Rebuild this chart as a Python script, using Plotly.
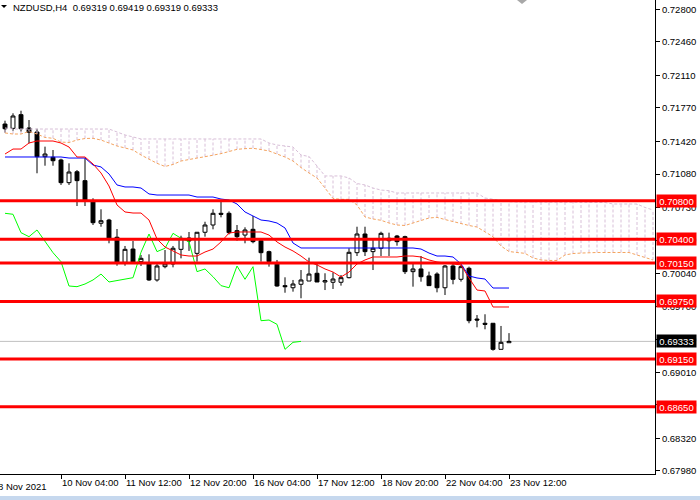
import plotly.graph_objects as go

# NZDUSD H4, 9 Nov 2021 00:00 .. 23 Nov 2021 12:00, one entry per bar
title_text = "NZDUSD,H4  0.69319 0.69419 0.69319 0.69333"

opens = [0.71602, 0.71557, 0.71700, 0.71561, 0.71519, 0.71261, 0.71255, 0.71227,
         0.70990, 0.71104, 0.71011, 0.70791, 0.70566, 0.70600, 0.70420, 0.70158,
         0.70297, 0.70165, 0.70154, 0.69974, 0.70113, 0.70141, 0.70294, 0.70412,
         0.70252, 0.70472, 0.70548, 0.70670, 0.70670, 0.70489, 0.70443, 0.70503,
         0.70384, 0.70270, 0.70154, 0.69915, 0.69893, 0.69929, 0.69963, 0.70044,
         0.69953, 0.69950, 0.69950, 0.69998, 0.70259, 0.70454, 0.70270, 0.70305,
         0.70384, 0.70433, 0.70426, 0.70061, 0.70089, 0.70016, 0.70036, 0.69893,
         0.70120, 0.69981, 0.70096, 0.69566, 0.69522, 0.69522, 0.69250, 0.69319]
highs = [0.71637, 0.71714, 0.71741, 0.71644, 0.71553, 0.71366, 0.71331, 0.71240,
         0.71192, 0.71122, 0.71244, 0.70827, 0.70712, 0.70612, 0.70506, 0.70329,
         0.70381, 0.70235, 0.70242, 0.70148, 0.70287, 0.70329, 0.70436, 0.70475,
         0.70475, 0.70582, 0.70712, 0.70791, 0.70690, 0.70548, 0.70524, 0.70642,
         0.70391, 0.70280, 0.70183, 0.70002, 0.69974, 0.70078, 0.70207, 0.70148,
         0.70044, 0.70054, 0.70026, 0.70305, 0.70530, 0.70530, 0.70391, 0.70478,
         0.70468, 0.70444, 0.70436, 0.70148, 0.70224, 0.70061, 0.70054, 0.70130,
         0.70148, 0.70130, 0.70113, 0.69608, 0.69616, 0.69522, 0.69494, 0.69419]
lows = [0.71512, 0.71532, 0.71522, 0.71401, 0.71088, 0.71167, 0.71167, 0.70966,
        0.70966, 0.70746, 0.70746, 0.70548, 0.70530, 0.70357, 0.70123, 0.70123,
        0.70150, 0.70120, 0.69965, 0.69957, 0.70096, 0.70106, 0.70200, 0.70277,
        0.70165, 0.70426, 0.70503, 0.70628, 0.70450, 0.70384, 0.70357, 0.70357,
        0.70165, 0.70113, 0.69904, 0.69841, 0.69852, 0.69783, 0.69963, 0.69953,
        0.69869, 0.69880, 0.69915, 0.69991, 0.70224, 0.70224, 0.70078, 0.70224,
        0.70224, 0.70332, 0.70036, 0.69904, 0.69956, 0.69915, 0.69845, 0.69817,
        0.69929, 0.69957, 0.69522, 0.69480, 0.69459, 0.69236, 0.69250, 0.69319]
closes = [0.71553, 0.71686, 0.71553, 0.71516, 0.71261, 0.71289, 0.71219, 0.70990,
          0.71101, 0.71011, 0.70804, 0.70572, 0.70593, 0.70409, 0.70158, 0.70294,
          0.70158, 0.70200, 0.69974, 0.70120, 0.70141, 0.70305, 0.70409, 0.70381,
          0.70472, 0.70548, 0.70670, 0.70660, 0.70468, 0.70426, 0.70496, 0.70374,
          0.70259, 0.70165, 0.69911, 0.69904, 0.69932, 0.69974, 0.70036, 0.69953,
          0.69967, 0.69984, 0.69998, 0.70263, 0.70454, 0.70270, 0.70305, 0.70461,
          0.70409, 0.70374, 0.70061, 0.70089, 0.70008, 0.69915, 0.69893, 0.70120,
          0.69981, 0.70113, 0.69549, 0.69556, 0.69511, 0.69250, 0.69323, 0.69333]

# Ichimoku (9, 26, 52)
tenkan = [0.71289, 0.71341, 0.71341, 0.71404, 0.71425, 0.71425, 0.71425, 0.71404,
          0.71362, 0.71258, 0.71258, 0.71185, 0.71091, 0.70955, 0.70757, 0.70684,
          0.70673, 0.70673, 0.70600, 0.70402, 0.70318, 0.70277, 0.70235, 0.70224,
          0.70224, 0.70266, 0.70297, 0.70371, 0.70464, 0.70475, 0.70475, 0.70475,
          0.70475, 0.70443, 0.70371, 0.70318, 0.70277, 0.70224, 0.70162, 0.70131,
          0.70089, 0.70057, 0.70005, 0.70057, 0.70141, 0.70183, 0.70214, 0.70214,
          0.70214, 0.70214, 0.70224, 0.70224, 0.70214, 0.70183, 0.70162, 0.70151,
          0.70141, 0.70131, 0.69995, 0.69869, 0.69859, 0.69692, 0.69692, 0.69692]
kijun = [0.71258, 0.71258, 0.71258, 0.71258, 0.71258, 0.71258, 0.71258, 0.71258,
         0.71247, 0.71247, 0.71247, 0.71174, 0.71154, 0.71081, 0.70966, 0.70945,
         0.70945, 0.70934, 0.70872, 0.70861, 0.70861, 0.70861, 0.70861, 0.70861,
         0.70840, 0.70840, 0.70840, 0.70819, 0.70809, 0.70767, 0.70684, 0.70642,
         0.70600, 0.70590, 0.70569, 0.70517, 0.70360, 0.70308, 0.70308, 0.70308,
         0.70308, 0.70308, 0.70308, 0.70308, 0.70308, 0.70308, 0.70308, 0.70308,
         0.70308, 0.70308, 0.70308, 0.70308, 0.70297, 0.70255, 0.70224, 0.70224,
         0.70214, 0.70141, 0.70016, 0.69995, 0.69984, 0.69890, 0.69890, 0.69890]
# spans are drawn 26 bars ahead, so they run past the last candle
senkou_a = [0.71509, 0.71498, 0.71498, 0.71524, 0.71498, 0.71462, 0.71453, 0.71414,
            0.71409, 0.71435, 0.71451, 0.71453, 0.71435, 0.71404, 0.71373, 0.71352,
            0.71331, 0.71279, 0.71237, 0.71192, 0.71159, 0.71180, 0.71216, 0.71234,
            0.71247, 0.71261, 0.71274, 0.71293, 0.71315, 0.71338, 0.71345, 0.71349,
            0.71336, 0.71321, 0.71289, 0.71258, 0.71216, 0.71148, 0.71091, 0.71039,
            0.70934, 0.70825, 0.70816, 0.70816, 0.70757, 0.70632, 0.70611, 0.70597,
            0.70569, 0.70548, 0.70543, 0.70566, 0.70595, 0.70621, 0.70628, 0.70605,
            0.70582, 0.70558, 0.70543, 0.70527, 0.70481, 0.70426, 0.70329, 0.70271,
            0.70261, 0.70252, 0.70204, 0.70183, 0.70178, 0.70178, 0.70235, 0.70250,
            0.70255, 0.70261, 0.70261, 0.70261, 0.70261, 0.70261, 0.70261, 0.70235,
            0.70209, 0.70183]
senkou_b = [0.71561, 0.71550, 0.71550, 0.71550, 0.71550, 0.71550, 0.71550, 0.71550,
            0.71550, 0.71550, 0.71550, 0.71550, 0.71550, 0.71550, 0.71519, 0.71488,
            0.71467, 0.71446, 0.71446, 0.71446, 0.71446, 0.71446, 0.71446, 0.71446,
            0.71446, 0.71446, 0.71446, 0.71446, 0.71446, 0.71446, 0.71446, 0.71446,
            0.71446, 0.71404, 0.71383, 0.71373, 0.71362, 0.71279, 0.71263, 0.71164,
            0.71060, 0.71060, 0.71060, 0.71039, 0.70981, 0.70966, 0.70934, 0.70913,
            0.70906, 0.70882, 0.70882, 0.70882, 0.70882, 0.70882, 0.70882, 0.70882,
            0.70882, 0.70882, 0.70882, 0.70882, 0.70830, 0.70819, 0.70809, 0.70791,
            0.70788, 0.70788, 0.70788, 0.70788, 0.70788, 0.70788, 0.70788, 0.70788,
            0.70788, 0.70788, 0.70788, 0.70783, 0.70767, 0.70767, 0.70767, 0.70767,
            0.70731, 0.70705]

levels = [0.70800, 0.70400, 0.70150, 0.69750, 0.69150, 0.68650]
last_price = 0.69333

price_ticks = [0.72800, 0.72460, 0.72110, 0.71770, 0.71420, 0.71080, 0.70730, 0.70390,
               0.70040, 0.69700, 0.69350, 0.69010, 0.68670, 0.68320, 0.67980]
time_ticks = [7, 15, 23, 31, 39, 47, 55, 63]
time_labels = ["10 Nov 04:00", "11 Nov 12:00", "12 Nov 20:00", "16 Nov 04:00",
               "17 Nov 12:00", "18 Nov 20:00", "22 Nov 04:00", "23 Nov 12:00"]
first_label = "8 Nov 2021"

bars = list(range(len(closes)))
span_x = list(range(len(senkou_a)))
chikou = closes[26:]          # close shifted 26 bars back
chikou_x = bars[:len(chikou)]

W, H = 700, 500
ML, MR, MT, MB = 0, 45, 0, 26
PW, PH = W - ML - MR, H - MT - MB


def px(x, y):
    # page pixels -> paper coordinates (for decorations only)
    return (x - ML) / PW, 1 - (y - MT) / PH


fig = go.Figure()

# kumo hatching: one dotted vertical per bar between the spans
hx, hy = [], []
for j in span_x:
    hx += [j, j, None]
    hy += [senkou_a[j], senkou_b[j], None]
fig.add_trace(go.Scatter(x=hx, y=hy, mode='lines',
                         line=dict(color='#d8bfd8', width=1, dash='3px,2px'), hoverinfo='skip'))
fig.add_trace(go.Scatter(x=span_x, y=senkou_b, mode='lines',
                         line=dict(color='#d8bfd8', width=1, dash='3px,2px'), hoverinfo='skip'))
fig.add_trace(go.Scatter(x=span_x, y=senkou_a, mode='lines',
                         line=dict(color='#f4a460', width=1, dash='3px,2px'), hoverinfo='skip'))

fig.add_trace(go.Candlestick(
    x=bars, open=opens, high=highs, low=lows, close=closes,
    increasing=dict(line=dict(color='black', width=1), fillcolor='white'),
    decreasing=dict(line=dict(color='black', width=1), fillcolor='black'),
    whiskerwidth=0, hoverinfo='skip'))

fig.add_trace(go.Scatter(x=chikou_x, y=chikou, mode='lines',
                         line=dict(color='#00ff00', width=1), hoverinfo='skip'))
fig.add_trace(go.Scatter(x=bars, y=kijun, mode='lines',
                         line=dict(color='#0000ff', width=1), hoverinfo='skip'))
fig.add_trace(go.Scatter(x=bars, y=tenkan, mode='lines',
                         line=dict(color='#ff0000', width=1), hoverinfo='skip'))

# bid line
fig.add_shape(type='line', xref='paper', x0=0, x1=1, y0=last_price, y1=last_price,
              line=dict(color='#c0c0c0', width=1), layer='below')

annots = []
for lvl in levels:
    fig.add_shape(type='line', xref='paper', x0=0, x1=1, y0=lvl, y1=lvl,
                  line=dict(color='#ff0000', width=3))
    annots.append(dict(xref='paper', x=1, xanchor='left', xshift=1, yref='y', y=lvl,
                       text=f'{lvl:.5f}', showarrow=False, bgcolor='#ff0000',
                       font=dict(color='white', size=9.5), width=37, height=10, borderpad=1))
annots.append(dict(xref='paper', x=1, xanchor='left', xshift=1, yref='y', y=last_price,
                   text=f'{last_price:.5f}', showarrow=False, bgcolor='black',
                   font=dict(color='white', size=9.5), width=37, height=10, borderpad=1))
annots.append(dict(xref='paper', x=0, xanchor='left', xshift=11, yref='paper', y=1,
                   yanchor='top', text=title_text, showarrow=False,
                   font=dict(color='black', size=9.5)))
# date of the first (cut off) bar, left of the first tick
annots.append(dict(xref='paper', x=0, xanchor='left', xshift=-4, yref='paper', y=0,
                   yanchor='top', yshift=-5, text=first_label, showarrow=False,
                   font=dict(color='black', size=9.5)))

# small markers: menu triangle top-left, chart-shift triangle at top
a, b = px(1, 5), px(7, 5)
c = px(4, 8)
fig.add_shape(type='path', xref='paper', yref='paper',
              path=f'M {a[0]} {a[1]} L {b[0]} {b[1]} L {c[0]} {c[1]} Z',
              fillcolor='black', line=dict(width=0))
a, b = px(517, 0), px(527, 0)
c = px(522, 4)
fig.add_shape(type='path', xref='paper', yref='paper',
              path=f'M {a[0]} {a[1]} L {b[0]} {b[1]} L {c[0]} {c[1]} Z',
              fillcolor='#a8a8a8', line=dict(width=0))

# tab strip along the bottom of the window
s0, s1 = px(0, 496), px(W, H)
fig.add_shape(type='rect', xref='paper', yref='paper', x0=s0[0], x1=s1[0], y0=s1[1], y1=s0[1],
              fillcolor='#c6d8ee', line=dict(width=0))

fig.update_layout(
    width=W, height=H, margin=dict(l=ML, r=MR, t=MT, b=MB),
    paper_bgcolor='white', plot_bgcolor='white', showlegend=False,
    font=dict(family='Liberation Sans, Arial, sans-serif', size=9.5, color='black'),
    annotations=annots,
    xaxis=dict(range=[-0.625, 81.25], rangeslider=dict(visible=False), showgrid=False,
               zeroline=False, showline=True, linecolor='black', linewidth=1,
               tickvals=time_ticks, ticktext=time_labels, ticks='outside', ticklen=4,
               tickcolor='black', ticklabelposition='outside right', tickangle=0,
               automargin=False, fixedrange=True),
    yaxis=dict(side='right', range=[0.679484, 0.72897], showgrid=False, zeroline=False,
               showline=True, linecolor='black', linewidth=1,
               tickvals=price_ticks, ticktext=[f'{v:.5f}' for v in price_ticks],
               ticks='outside', ticklen=4, tickcolor='black', automargin=False,
               fixedrange=True),
)

# page body has an 8px default margin; drop it so the chart sits at the window corner
fig.write_html("out.html", config={'displayModeBar': False},
               post_script="document.body.style.margin='0';")
